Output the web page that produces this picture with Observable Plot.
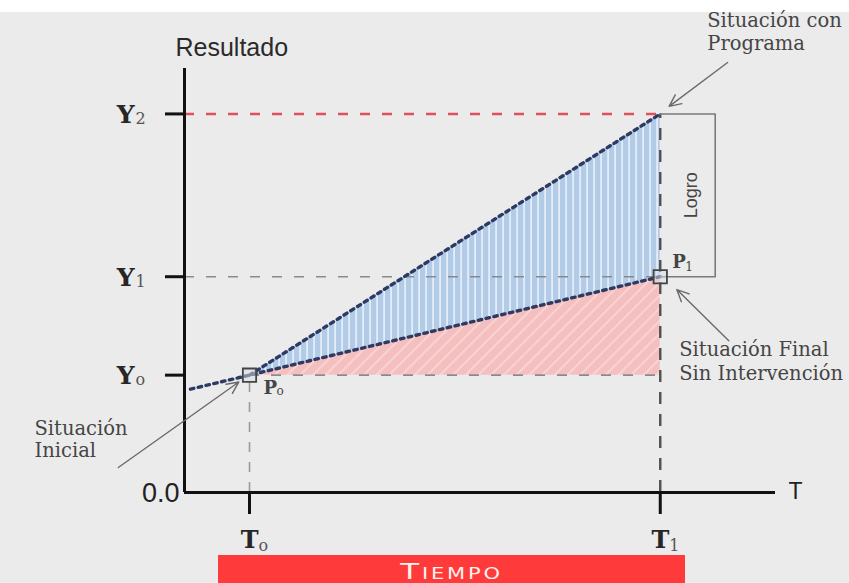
<!DOCTYPE html>
<html>
<head>
<meta charset="utf-8">
<script src="https://cdn.jsdelivr.net/npm/d3@7"></script>
<script src="https://cdn.jsdelivr.net/npm/@observablehq/plot@0.6"></script>
<style>
  html, body { margin: 0; padding: 0; background: #ebebeb; width: 849px; height: 583px; overflow: hidden; }
  #top { height: 12px; background: #ffffff; }
  #tiempo { margin-left: 218px; width: 467px; height: 28px; background: #ff3a3a; color: #fff3ee;
            font-family: "DejaVu Sans", "Liberation Sans", sans-serif; font-size: 22px; font-variant: small-caps;
            letter-spacing: 2px; text-align: center; line-height: 33px; }
  #tiempo span { display: inline-block; transform: scaleX(1.4); }
</style>
</head>
<body>
<div id="top"></div>
<div id="chart"></div>
<div id="tiempo"><span>Tiempo</span></div>
<script>
// ---- data ----
const yLevels = [31, 57, 100];          // Y0, Y1, Y2
const yMain = ["Y", "Y", "Y"];
const ySub = ["o", "1", "2"];
const xTimes = [1.1, 8.05];             // T0, T1
const xMain = ["T", "T"];
const xSub = ["o", "1"];
const conPrograma = [{t: 1.1, v: 31}, {t: 8.05, v: 100}];
const sinIntervencion = [{t: 0.1, v: 27.3}, {t: 1.1, v: 31}, {t: 8.05, v: 57}];
const areaLogro = [{t: 1.1, lo: 31, hi: 31}, {t: 8.05, lo: 57, hi: 100}];
const areaBase = [{t: 1.1, lo: 31, hi: 31}, {t: 8.05, lo: 31, hi: 57}];
const puntos = [{t: 1.1, v: 31}, {t: 8.05, v: 57}];
const logroEdge = 8.98;
const arrows = [
  {x1: 9.19, y1: 113.6, x2: 8.2, y2: 102},
  {x1: 9.21, y1: 40.1, x2: 8.33, y2: 53.6},
  {x1: -1.12, y1: 6.6, x2: 0.92, y2: 29.2}
];

const [Y0, Y1, Y2] = yLevels;
const [T0, T1] = xTimes;
const serif = "'DejaVu Serif', 'Liberation Serif', serif";
const sans = "'Liberation Sans', Arial, sans-serif";
const txt = "#454545";

const chart = Plot.plot({
  width: 849, height: 543,
  marginLeft: 184, marginRight: 74, marginTop: 56, marginBottom: 63,
  x: {domain: [0, 10]},
  y: {domain: [0, 112]},
  style: {background: "transparent", overflow: "visible"},
  marks: [
    // filled regions
    Plot.areaY(areaBase, {x: "t", y1: "lo", y2: "hi", fill: "url(#pinkHatch)"}),
    Plot.areaY(areaLogro, {x: "t", y1: "lo", y2: "hi", fill: "url(#blueStripes)"}),
    // reference dashed lines
    Plot.ruleY([Y2], {x1: 0, x2: T1, stroke: "#e2505c", strokeWidth: 2.6, strokeDasharray: "10,12"}),
    Plot.ruleY([Y1], {x1: 0, x2: T1, stroke: "#8a8a8a", strokeWidth: 1.6, strokeDasharray: "10,12"}),
    Plot.ruleY([Y0], {x1: T0, x2: T1, stroke: "#8a8a8a", strokeWidth: 1.6, strokeDasharray: "10,12"}),
    Plot.ruleX([T1], {y1: 0, y2: Y2, stroke: "#505050", strokeWidth: 2.4, strokeDasharray: "12,10"}),
    Plot.ruleX([T0], {y1: 0, y2: Y0, stroke: "#9a9a9a", strokeWidth: 1.6, strokeDasharray: "10,10"}),
    // trend lines
    Plot.line(sinIntervencion, {x: "t", y: "v", stroke: "#2d3b64", strokeWidth: 3.4, strokeDasharray: "3.5,4.5"}),
    Plot.line(conPrograma, {x: "t", y: "v", stroke: "#2d3b64", strokeWidth: 3.4, strokeDasharray: "3.5,4.5"}),
    // Logro bracket
    Plot.line([{t: T1, v: Y2}, {t: logroEdge, v: Y2}, {t: logroEdge, v: Y1}, {t: T1, v: Y1}],
      {x: "t", y: "v", stroke: "#7a7a7a", strokeWidth: 1.6}),
    Plot.text(["Logro"], {x: (T1 + logroEdge) / 2, y: (Y1 + Y2) / 2, dx: 3, rotate: -90,
      fontFamily: sans, fontSize: 18, fill: txt}),
    // axes
    Plot.ruleX([0], {y1: 0, y2: 112, stroke: "#111", strokeWidth: 3}),
    Plot.ruleY([0], {x1: 0, x2: 10, stroke: "#111", strokeWidth: 3}),
    Plot.axisY({ticks: yLevels, tickSize: 19, tickFormat: () => "", stroke: "#111", strokeWidth: 3}),
    Plot.axisX({ticks: xTimes, tickSize: 22, tickFormat: () => "", stroke: "#111", strokeWidth: 3}),
    Plot.text(yLevels, {x: 0, y: d => d, text: (d, i) => yMain[i], dx: -50, textAnchor: "end",
      fontFamily: serif, fontWeight: "bold", fontSize: 25, fill: "#262626", dy: 1}),
    Plot.text(yLevels, {x: 0, y: d => d, text: (d, i) => ySub[i], dx: -49, textAnchor: "start",
      fontFamily: serif, fontSize: 16, fill: "#555", dy: 5}),
    Plot.text(xTimes, {x: d => d, y: 0, text: (d, i) => xMain[i], dx: 9, dy: 48, textAnchor: "end",
      fontFamily: serif, fontWeight: "bold", fontSize: 24, fill: "#262626"}),
    Plot.text(xTimes, {x: d => d, y: 0, text: (d, i) => xSub[i], dx: 9, dy: 53, textAnchor: "start",
      fontFamily: serif, fontSize: 16, fill: "#555"}),
    Plot.text(["0.0"], {x: 0, y: 0, dx: -5, dy: 1, textAnchor: "end", fontFamily: sans, fontSize: 27, fill: "#222"}),
    Plot.text(["T"], {x: 10, y: 0, dx: 20, dy: -1, fontFamily: sans, fontSize: 23, fill: "#222"}),
    Plot.text(["Resultado"], {x: 0, y: 112, dx: -9, dy: -21, textAnchor: "start", fontFamily: sans, fontSize: 25, fill: "#2a2a2a"}),
    // points
    Plot.dot(puntos, {x: "t", y: "v", symbol: "square", r: 7.5, stroke: "#444", strokeWidth: 1.8, fill: "#d8dde6", fillOpacity: 0.5}),
    Plot.text([puntos[0]], {x: "t", y: "v", text: () => "P", dx: 14, dy: 13, textAnchor: "start",
      fontFamily: serif, fontWeight: "bold", fontSize: 18, fill: txt}),
    Plot.text([puntos[0]], {x: "t", y: "v", text: () => "o", dx: 27, dy: 16, textAnchor: "start",
      fontFamily: serif, fontSize: 12, fill: txt}),
    Plot.text([puntos[1]], {x: "t", y: "v", text: () => "P", dx: 12, dy: -14, textAnchor: "start",
      fontFamily: serif, fontWeight: "bold", fontSize: 18, fill: txt}),
    Plot.text([puntos[1]], {x: "t", y: "v", text: () => "1", dx: 25, dy: -10, textAnchor: "start",
      fontFamily: serif, fontSize: 12, fill: txt}),
    // annotations
    Plot.arrow(arrows, {x1: "x1", y1: "y1", x2: "x2", y2: "y2", stroke: "#6a6a6a", strokeWidth: 1.4,
      headLength: 14, headAngle: 50}),
    Plot.text(["Situación con\nPrograma"], {x: T1, y: Y2, dx: 47, dy: -104, textAnchor: "start", lineAnchor: "top",
      lineHeight: 1.2, fontFamily: serif, fontSize: 19.5, fill: txt}),
    Plot.text(["Situación Final\nSin Intervención"], {x: T1, y: Y1, dx: 19, dy: 63, textAnchor: "start", lineAnchor: "top",
      lineHeight: 1.2, fontFamily: serif, fontSize: 19.5, fill: txt}),
    Plot.text(["Situación\nInicial"], {x: 0, y: Y0, dx: -150, dy: 44, textAnchor: "start", lineAnchor: "top",
      lineHeight: 1.15, fontFamily: serif, fontSize: 19.5, fill: txt})
  ]
});

d3.select(chart).insert("defs", ":first-child").html(`
  <pattern id="blueStripes" width="7" height="10" patternUnits="userSpaceOnUse">
    <rect width="7" height="10" fill="#b2cce8"/>
    <rect x="5.2" width="1.8" height="10" fill="#e4edf7"/>
  </pattern>
  <pattern id="pinkHatch" width="9" height="9" patternUnits="userSpaceOnUse" patternTransform="rotate(45)">
    <rect width="9" height="9" fill="#f5bfbf"/>
    <rect width="1.6" height="9" fill="#f9d8d8"/>
  </pattern>`);

document.getElementById("chart").appendChild(chart);
</script>
</body>
</html>
